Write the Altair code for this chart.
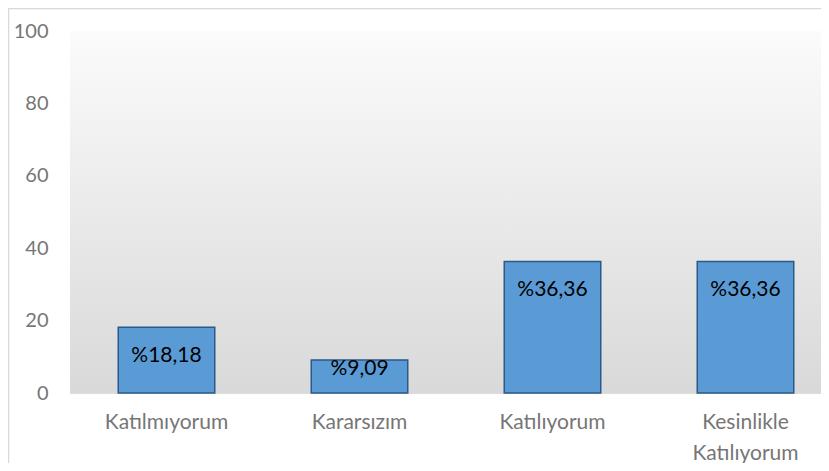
import altair as alt
import pandas as pd

categories = ["Katılmıyorum", "Kararsızım", "Katılıyorum", "Kesinlikle Katılıyorum"]
values = [18.18, 9.09, 36.36, 36.36]
labels = ["%18,18", "%9,09", "%36,36", "%36,36"]
y_ticks = [0, 20, 40, 60, 80, 100]

df = pd.DataFrame({"cat": categories, "val": values, "lab": labels})

FONT = "Lato"
LABEL_GRAY = "#767676"

x_enc = alt.X(
    "cat:N",
    sort=categories,
    scale=alt.Scale(range=[0, 772], paddingInner=0.5, paddingOuter=0.25),
    axis=alt.Axis(
        title=None,
        labelAngle=0,
        domain=False,
        ticks=False,
        labelFont=FONT,
        labelFontSize=21,
        labelColor=LABEL_GRAY,
        labelPadding=18,
        labelLineHeight=31,
        labelExpr="datum.label == 'Kesinlikle Katılıyorum' ? ['Kesinlikle', 'Katılıyorum'] : datum.label",
    ),
)

one_row = alt.Data(values=[{"a": 1}])

background = alt.Chart(one_row).mark_rect(
    fill=alt.LinearGradient(
        gradient="linear",
        x1=0, x2=0, y1=0, y2=1,
        stops=[
            alt.GradientStop(color="#fbfbfb", offset=0),
            alt.GradientStop(color="#d9d9d9", offset=1),
        ],
    ),
    strokeWidth=0,
).encode(
    x=alt.value(0), x2=alt.value("width"), y=alt.value(0), y2=alt.value("height")
)

bars = alt.Chart(df).mark_bar(
    fill="#5B9BD5", stroke="#2A5A88", strokeWidth=1.5
).encode(
    x=x_enc,
    y=alt.Y(
        "val:Q",
        scale=alt.Scale(domain=[0, 100], nice=False),
        axis=alt.Axis(
            title=None,
            values=y_ticks,
            grid=False,
            domain=False,
            ticks=False,
            labelFont=FONT,
            labelFontSize=20,
            labelColor=LABEL_GRAY,
            labelPadding=22,
        ),
    ),
)

text = alt.Chart(df).transform_calculate(
    ly="datum.val > 15 ? datum.val - 5 : datum.val + 0.6"
).mark_text(
    baseline="top", align="center", font=FONT, fontSize=21, color="#000000"
).encode(
    x=alt.X("cat:N", sort=categories),
    y=alt.Y("ly:Q"),
    text="lab:N",
)

left_border = alt.Chart(one_row).mark_rule(color="#d9d9d9", strokeWidth=1.5).encode(
    x=alt.value(-61.5), y=alt.value(-23), y2=alt.value(440)
)
top_border = alt.Chart(one_row).mark_rule(color="#d9d9d9", strokeWidth=1.5).encode(
    y=alt.value(-22.5), x=alt.value(-62), x2=alt.value(760)
)

chart = alt.layer(background, bars, text, left_border, top_border).properties(
    width=751,
    height=362,
    autosize=alt.AutoSizeParams(type="none"),
    padding={"left": 62, "top": 23, "right": 0, "bottom": 70},
).configure_view(
    stroke=None,
).configure(background="white")

chart.save("out.html", embed_options={"renderer": "svg", "actions": False})
